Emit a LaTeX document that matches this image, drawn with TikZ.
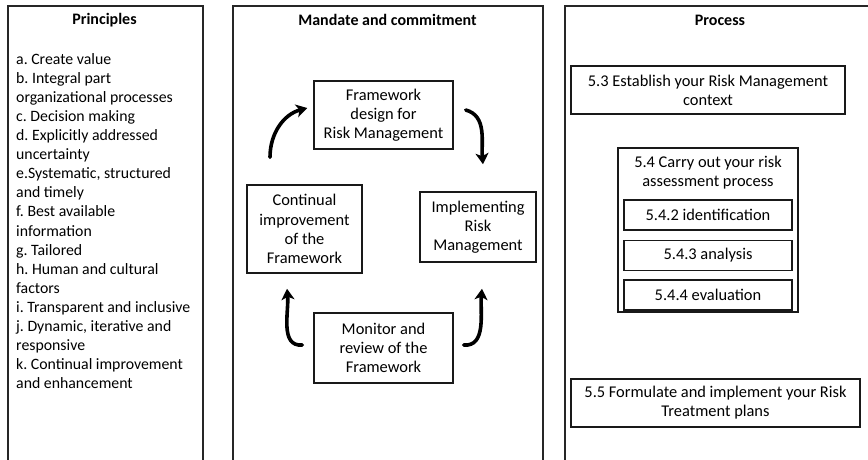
\documentclass[tikz,border=0pt]{standalone}
\usepackage{fontspec}
\setmainfont{Carlito}
\frenchspacing
\usepackage{tikz}
\usetikzlibrary{positioning,arrows.meta}

\begin{document}
\begin{tikzpicture}[x=1pt,y=-1pt,every node/.style={font=\fontsize{16.4}{19.1}\selectfont}]
\tikzstyle{panel}=[rectangle, draw=black!85, line width=1.5pt, anchor=north west, minimum height=480pt]
\tikzstyle{heading}=[font=\fontsize{16}{19.1}\selectfont\bfseries]
\tikzstyle{box}=[rectangle, draw=black!90, line width=1.5pt, align=center, inner sep=2pt]
\tikzstyle{connect}=[-{Stealth[length=11pt,width=13pt,inset=3pt]}, line width=3.6pt, line cap=round]
  \useasboundingbox (0,0) rectangle (868,459);
  \clip (0,0) rectangle (868,459);
  % three columns
  \node[panel, minimum width=195pt] (principles) at (7,5) {};
  \node[panel, minimum width=310pt] (mandate) at (232,5) {};
  \node[panel, minimum width=330pt] (process) at (564,5) {};
  \node[heading] (ptitle) at (104.5,20) {Principles};
  \node[heading] (mtitle) at (387.5,20) {Mandate and commitment};
  \node[heading] (prtitle) at (720,20) {Process};
  \node[anchor=north west, align=left, inner sep=0pt, font=\fontsize{15.8}{19.1}\selectfont] (plist) at (16,53) {a. Create value\\
    b. Integral part\\ organizational processes\\ c. Decision making\\
    d. Explicitly addressed\\ uncertainty\\ e.Systematic, structured\\ and timely\\
    f. Best available\\ information\\ g. Tailored\\ h. Human and cultural\\ factors\\
    i. Transparent and inclusive\\ j. Dynamic, iterative and\\ responsive\\
    k. Continual improvement\\ and enhancement};
  % the cycle
  \node[box, minimum width=139pt, minimum height=68pt] (frame) at (383.5,115) {Framework\\ design for\\ Risk Management};
  \node[box, minimum width=116pt, minimum height=70pt] (impl) at (478,227) {Implementing\\ Risk\\ Management};
  \node[box, minimum width=139pt, minimum height=70pt] (monitor) at (383.5,348) {Monitor and\\ review of the\\ Framework};
  \node[box, minimum width=115pt, minimum height=88pt] (cont) at (304.5,229) {Continual\\ improvement\\ of the\\ Framework};
  \draw[connect] ([xshift=-34.5pt,yshift=27pt]cont.north) to[out=90,in=195] ([xshift=-6pt,yshift=7pt]frame.west);
  \draw[connect] ([xshift=12pt,yshift=5pt]frame.east) to[out=-15,in=95] ([xshift=5pt,yshift=27pt]impl.north);
  \draw[connect] ([xshift=-11pt,yshift=3pt]monitor.west) to[out=185,in=-85] ([xshift=-17.5pt,yshift=-15pt]cont.south);
  \draw[connect] ([xshift=10pt,yshift=3pt]monitor.east) to[out=-5,in=-95] ([xshift=4pt,yshift=-26pt]impl.south);
  % process steps
  \node[box, minimum width=274pt, minimum height=48pt] (context) at (708,90) {5.3 Establish your Risk Management\\ context};
  \node[box, minimum width=180pt, minimum height=164pt] (assess) at (708,230) {};
  \node[align=center, inner sep=0pt] (atitle) at (708,173) {5.4 Carry out your risk\\ assessment process};
  \node[box, minimum width=168pt, minimum height=30pt] (ident) at (708,215) {5.4.2 identification};
  \node[box, minimum width=168pt, minimum height=30pt, below=9pt of ident] (analysis) {5.4.3 analysis};
  \node[box, minimum width=168pt, minimum height=30pt, below=8pt of analysis] (evaluation) {5.4.4 evaluation};
  \node[box, minimum width=289pt, minimum height=48pt] (treat) at (715.5,403) {5.5 Formulate and implement your Risk\\ Treatment plans};
\end{tikzpicture}
\end{document}
